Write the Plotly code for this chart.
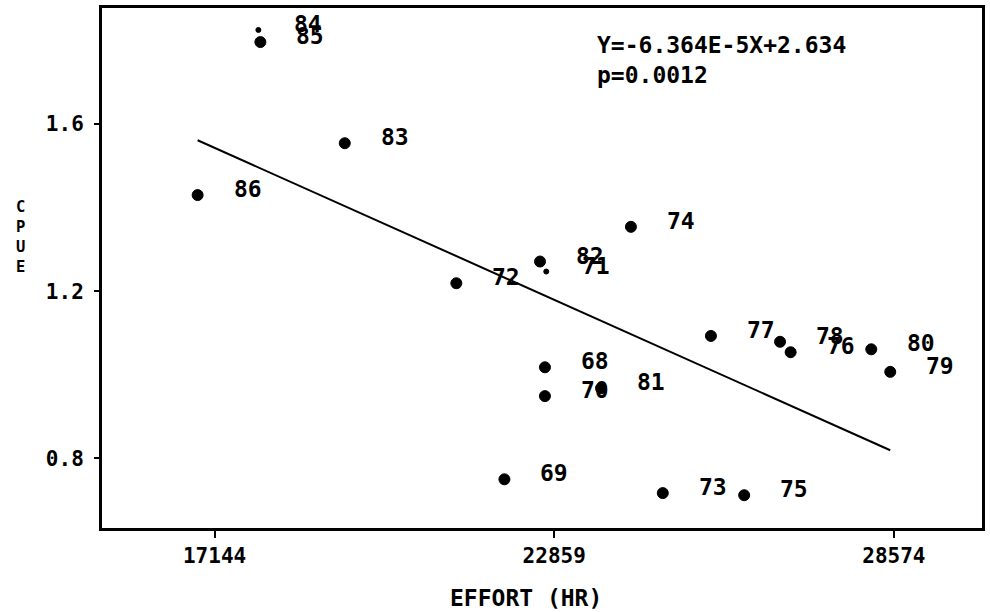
import plotly.graph_objects as go

# ---- data ----
years = ["68", "69", "70", "71", "72", "73", "74", "75", "76", "77",
         "78", "79", "80", "81", "82", "83", "84", "85", "86"]
effort = [22703, 22021, 22703, 22725, 21212, 24686, 24150, 26055, 26837, 25496,
          26659, 28513, 28194, 23647, 22620, 19335, 17881, 17915, 16859]
cpue = [1.018, 0.750, 0.949, 1.247, 1.219, 0.717, 1.354, 0.712, 1.054, 1.093,
        1.079, 1.007, 1.061, 0.968, 1.271, 1.554, 1.825, 1.796, 1.430]

slope = -6.364e-5
intercept = 2.634
x_ticks = [17144, 22859, 28574]
y_ticks = [0.8, 1.2, 1.6]
equation_text = "Y=-6.364E-5X+2.634"
p_text = "p=0.0012"
y_title = "CPUE"
x_title = "EFFORT (HR)"

# ---- styles ----
FONT = "DejaVu Sans Mono"
small_points = {"84": 5, "71": 5}
marker_sizes = [small_points.get(y, 11) for y in years]

fig = go.Figure()

# regression line across the observed effort range
x_line = [min(effort), max(effort)]
y_line = [slope * v + intercept for v in x_line]
fig.add_trace(go.Scatter(x=x_line, y=y_line, mode="lines",
                         line=dict(color="black", width=2), hoverinfo="skip"))

fig.add_trace(go.Scatter(x=effort, y=cpue, mode="markers",
                         marker=dict(color="black", size=marker_sizes, opacity=1,
                                     line=dict(color="black", width=1)),
                         text=years, hoverinfo="text"))

for yr, xv, yv in zip(years, effort, cpue):
    fig.add_annotation(x=xv, y=yv, text=yr, showarrow=False,
                       xshift=50, yshift=6, xanchor="center", yanchor="middle",
                       font=dict(family=FONT, size=23, color="black", weight="bold"))

fig.add_annotation(xref="paper", yref="paper", x=0.5606, y=0.958,
                   text=equation_text + "<br>" + p_text, showarrow=False,
                   xanchor="left", yanchor="top", align="left",
                   font=dict(family=FONT, size=23, color="black", weight="bold"))

fig.add_annotation(xref="paper", yref="paper", x=0.482, y=-0.135,
                   text=x_title, showarrow=False,
                   xanchor="center", yanchor="middle",
                   font=dict(family=FONT, size=23, color="black", weight="bold"))

fig.add_annotation(xref="paper", yref="paper", x=-0.093, y=0.56,
                   text="<br>".join(y_title), showarrow=False,
                   xanchor="center", yanchor="middle",
                   font=dict(family=FONT, size=15.5, color="black", weight="bold"))

fig.update_xaxes(range=[15250, 30057], tickvals=x_ticks,
                 ticktext=[str(v) for v in x_ticks],
                 showgrid=False, zeroline=False,
                 showline=True, linecolor="black", linewidth=3, mirror=True,
                 ticks="outside", ticklen=7, tickwidth=2, tickcolor="black",
                 tickfont=dict(family=FONT, size=21, color="black", weight="bold"))
fig.update_yaxes(range=[0.6335, 1.8775], tickvals=y_ticks,
                 ticktext=[f"{v:.1f}" for v in y_ticks],
                 showgrid=False, zeroline=False,
                 showline=True, linecolor="black", linewidth=3, mirror=True,
                 ticks="outside", ticklen=5, tickwidth=2, tickcolor="black",
                 ticklabelstandoff=6,
                 tickfont=dict(family=FONT, size=21, color="black", weight="bold"))

fig.update_layout(width=990, height=612,
                  margin=dict(l=102, r=5, t=8, b=84),
                  paper_bgcolor="white", plot_bgcolor="white",
                  showlegend=False)

fig.write_html("out.html")
